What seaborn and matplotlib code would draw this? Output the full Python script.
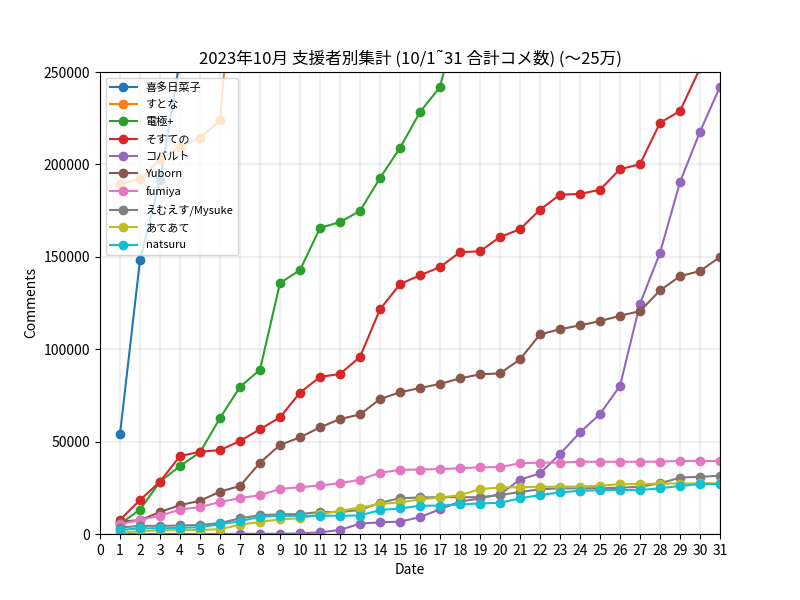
import matplotlib
matplotlib.use("Agg")
import matplotlib.pyplot as plt
import seaborn as sns
import pandas as pd
import numpy as np

days = list(range(1, 32))

names = ["喜多日菜子", "すとな", "電極+", "そすての", "コバルト", "Yuborn",
         "fumiya", "えむえす/Mysuke", "あてあて", "natsuru"]

kita = [54100, 148200, 191400, 257000, 300000, 345000, 390000, 430000, 470000, 505000,
        540000, 575000, 610000, 640000, 670000, 700000, 730000, 760000, 790000, 815000,
        840000, 865000, 890000, 915000, 940000, 960000, 980000, 1000000, 1020000, 1040000, 1060000]
sutona = [189500, 191900, 202700, 209400, 214400, 223800, 350000, 380000, 410000, 440000,
          465000, 490000, 515000, 540000, 560000, 580000, 600000, 620000, 640000, 660000,
          680000, 700000, 720000, 740000, 760000, 775000, 790000, 805000, 820000, 835000, 850000]
denkyoku = [5500, 13200, 28300, 36800, 44200, 62700, 79600, 88900, 135800, 142800,
            165600, 168800, 174800, 192600, 208900, 228300, 241900, 285000, 300000, 315000,
            330000, 345000, 360000, 375000, 390000, 405000, 420000, 435000, 450000, 465000, 480000]
sosuteno = [7700, 18400, 28300, 42200, 44500, 45400, 50300, 56700, 63100, 76500,
            85000, 86600, 95800, 121600, 135200, 140000, 144400, 152500, 153000, 160700,
            164900, 175500, 183600, 184000, 186300, 197400, 200100, 222500, 228900, 252000, 262000]
cobalt = [0, 0, 0, 0, 0, 0, 100, 100, 100, 300,
          900, 2200, 5600, 6300, 6700, 9100, 13400, 17500, 19300, 21500,
          29400, 32800, 43300, 55000, 64900, 80100, 124600, 152100, 190400, 217700, 242000]
yuborn = [6700, 7500, 11900, 15600, 18000, 22900, 26000, 38600, 48200, 52300,
          57700, 62200, 64700, 73000, 76700, 79000, 81200, 84200, 86400, 86900,
          94500, 108000, 110800, 112900, 115200, 118100, 120600, 131800, 139500, 142300, 149900]
fumiya = [5300, 7600, 9900, 13200, 14600, 17300, 19400, 21000, 24400, 25300,
          26300, 27400, 29400, 33100, 34700, 34900, 35150, 35600, 36100, 36200,
          38300, 38600, 38600, 39100, 39100, 39100, 39100, 39200, 39500, 39500, 39500]
mysuke = [3500, 4400, 4400, 4600, 4900, 5900, 8500, 10200, 10600, 10800,
          11900, 11900, 13000, 16900, 19300, 19800, 19900, 19900, 19900, 21100,
          22700, 24200, 24700, 24700, 24800, 25000, 25600, 27400, 30500, 31000, 31500]
ateate = [700, 1500, 2000, 2100, 2200, 2600, 5000, 6500, 8000, 8500,
          10600, 12600, 14300, 16200, 17100, 18700, 19800, 21000, 24300, 25200,
          25300, 25600, 25600, 25700, 26100, 27000, 27000, 27300, 27300, 27400, 27400]
natsuru = [2100, 3100, 3100, 3300, 3700, 5300, 6900, 9400, 9800, 9800,
           9900, 9900, 10000, 13000, 13800, 15300, 15400, 16000, 16500, 16900,
           19300, 21100, 22500, 23400, 23700, 23800, 23800, 24700, 26000, 27000, 27100]

series = [kita, sutona, denkyoku, sosuteno, cobalt, yuborn, fumiya, mysuke, ateate, natsuru]

plt.rcParams['font.family'] = ['Noto Sans CJK JP', 'DejaVu Sans']

fig, ax = plt.subplots(figsize=(8, 6), dpi=100)
palette = sns.color_palette("tab10", len(names))

for name, vals, col in zip(names, series, palette):
    df = pd.DataFrame({"Date": days, "Comments": vals})
    sns.lineplot(data=df, x="Date", y="Comments", ax=ax, color=col, marker="o",
                 markersize=6, markeredgecolor=col, markeredgewidth=1, linewidth=1.5,
                 label=name)

ax.set_xlim(0, 31)
ax.set_ylim(0, 250000)
ax.set_xticks(range(0, 32))
ax.set_yticks([0, 50000, 100000, 150000, 200000, 250000])
ax.set_yticklabels(["0", "50000", "100000", "150000", "200000", "250000"])
ax.grid(True, color="#b0b0b0", alpha=0.2, linewidth=1.5)
ax.set_axisbelow(True)
ax.set_xlabel("Date")
ax.set_ylabel("Comments")
ax.set_title("2023年10月 支援者別集計 (10/1˜31 合計コメ数) (〜25万)", fontsize=12)
ax.legend(loc="upper left", fontsize=8, labelspacing=0.65, handlelength=2.4)

fig.savefig("out.png", dpi=100)
